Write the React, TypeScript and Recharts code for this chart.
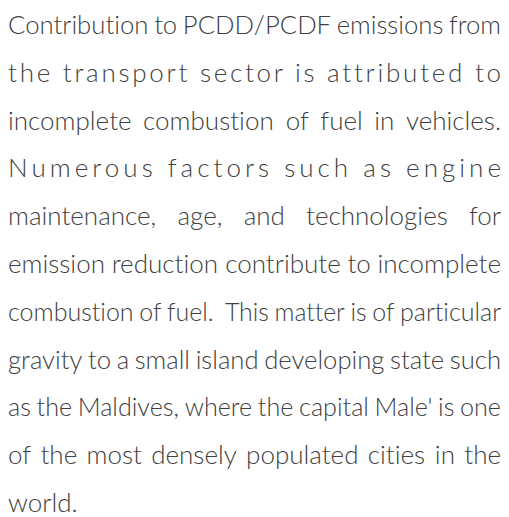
import React, { useMemo } from "react";
import { Surface } from "recharts";

const paragraphLines: string[] = [
  "Contribution to PCDD/PCDF emissions from",
  "the transport sector is attributed to",
  "incomplete combustion of fuel in vehicles.",
  "Numerous factors such as engine",
  "maintenance, age, and technologies for",
  "emission reduction contribute to incomplete",
  "combustion of fuel.  This matter is of particular",
  "gravity to a small island developing state such",
  "as the Maldives, where the capital Male' is one",
  "of the most densely populated cities in the",
  "world.",
];
// "letters": extra space spread between letters, "words": between words, "left": not justified
const lineModes: string[] = [
  "words", "letters", "words", "letters", "words", "words",
  "words", "words", "words", "words", "left",
];

const W = 509;
const H = 517;
const LEFT = 8;
const RIGHT = 501;
const FIRST_BASELINE = 34;
const PITCH = 47.8;
const FONT_FAMILY = "Lato, 'Open Sans', sans-serif";
const FONT_WEIGHT = 300;
const FONT_SIZE = 26;
const COLOR = "#404040";
const textStyle: React.CSSProperties = { fontVariantLigatures: "none", fontFeatureSettings: '"liga" 0, "clig" 0' };

function measurer() {
  const c = document.createElement("canvas");
  const ctx = c.getContext("2d")!;
  ctx.font = `${FONT_WEIGHT} ${FONT_SIZE}px ${FONT_FAMILY}`;
  return (s: string) => ctx.measureText(s).width;
}

export default function App() {
  const layout = useMemo(() => {
    const m = measurer();
    const target = RIGHT - LEFT;
    return paragraphLines.map((line, i) => {
      const y = FIRST_BASELINE + i * PITCH;
      const mode = lineModes[i];
      if (mode === "letters") {
        return { kind: "letters", y, text: line };
      }
      const words = line.split(" ");
      const widths = words.map(m);
      const sp = m(" ");
      if (mode === "left") {
        let x = LEFT;
        return {
          kind: "words",
          y,
          words: words.map((w, k) => {
            const r = { w, x, len: widths[k] };
            x += widths[k] + sp;
            return r;
          }),
        };
      }
      const total = widths.reduce((a, b) => a + b, 0);
      let gap = (target - total) / (words.length - 1);
      let scale = 1;
      const minGap = sp * 0.8;
      if (gap < minGap) {
        gap = minGap;
        scale = (target - gap * (words.length - 1)) / total;
      }
      let x = LEFT;
      return {
        kind: "words",
        y,
        words: words.map((w, k) => {
          const len = widths[k] * scale;
          const r = { w, x, len, scaled: scale !== 1 };
          x += len + gap;
          return r;
        }),
      };
    });
  }, []);

  return (
    <div
      style={{
        position: "absolute",
        left: 0,
        top: 0,
        width: W,
        height: H,
        overflow: "hidden",
        background: "#fff",
      }}
    >
      <Surface width={W} height={H} style={{ display: "block" }}>
        <rect x={0} y={0} width={W} height={H} fill="#ffffff" />
        {layout.map((ln: any, i: number) =>
          ln.kind === "letters" ? (
            <text
              key={i}
              x={LEFT}
              y={ln.y}
              textLength={RIGHT - LEFT}
              lengthAdjust="spacing"
              fontFamily={FONT_FAMILY}
              fontWeight={FONT_WEIGHT}
              fontSize={FONT_SIZE}
              fill={COLOR}
              style={textStyle}
            >
              {ln.text}
            </text>
          ) : (
            <g key={i}>
              {ln.words.map((wd: any, k: number) =>
                wd.w === "" ? null : (
                  <text
                    key={k}
                    x={wd.x}
                    y={ln.y}
                    textLength={wd.scaled ? wd.len : undefined}
                    lengthAdjust={wd.scaled ? "spacingAndGlyphs" : undefined}
                    fontFamily={FONT_FAMILY}
                    fontWeight={FONT_WEIGHT}
                    fontSize={FONT_SIZE}
                    fill={COLOR}
                    style={textStyle}
                  >
                    {wd.w}
                  </text>
                )
              )}
            </g>
          )
        )}
      </Surface>
    </div>
  );
}
